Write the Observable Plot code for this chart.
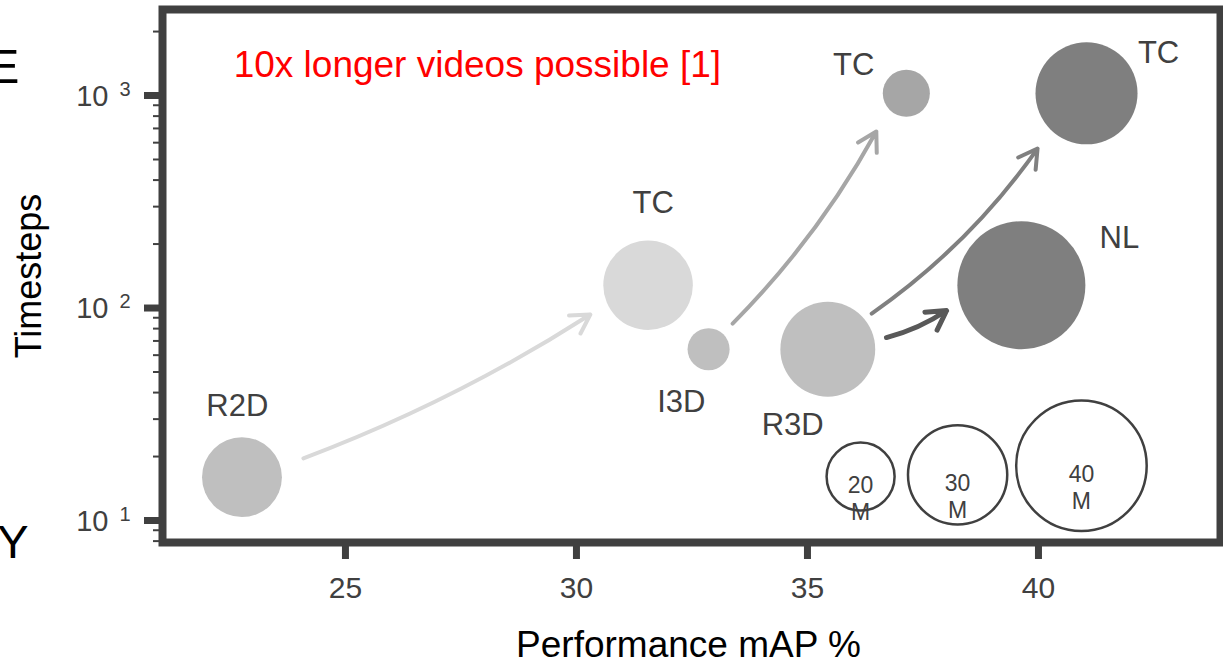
<!DOCTYPE html>
<html><head><meta charset="utf-8">
<script src="https://cdn.jsdelivr.net/npm/d3@7"></script>
<script src="https://cdn.jsdelivr.net/npm/@observablehq/plot@0.6"></script>
<style>
html,body{margin:0;padding:0;background:#fff;}
#chart svg{display:block;}
</style></head><body><div id="chart"></div>
<script>
// ---- data ----
const models = ["R2D", "TC", "I3D", "R3D", "TC", "TC", "NL"];
const mAP = [22.76, 31.55, 32.86, 35.44, 37.14, 41.04, 39.63];
const timesteps = [16, 128, 64, 64, 1024, 1024, 128];
const paramsM = [23.8, 26.9, 11.7, 28.6, 13.3, 30.9, 39.2];
const labelX = [22.66, 31.66, 32.27, 34.68, 36.00, 42.60, 41.75];
const labelY = [34.5, 312, 36.0, 28.0, 1384, 1580, 213];

const arrowFromX = [24.09, 33.38, 36.39, 36.71];
const arrowFromY = [19.6, 84.5, 94.2, 72.6];
const arrowToX = [30.30, 36.49, 39.98, 38.01];
const arrowToY = [93.2, 677, 563, 97.3];

const legendSizes = [20, 30, 40];
const legendLabels = ["20\nM", "30\nM", "40\nM"];
const legendX = [36.15, 38.25, 40.93];
const legendY = [16.1, 16.4, 18.1];

const note = "10x longer videos possible [1]";
const noteX = [22.58];
const noteY = [1384];

const xTicks = [25, 30, 35, 40];
const yTicks = [10, 100, 1000];
const yTickBase = "10";
const yTickExp = ["1", "2", "3"];
const yMinorTicks = [8, 9, 20, 30, 40, 50, 60, 70, 80, 90, 200, 300, 400, 500, 600, 700, 800, 900, 2000];
const xLabel = "Performance mAP %";
const yLabel = "Timesteps";
const sideLetters = ["E", "Y"];

// ---- styles (kept apart from the data) ----
const bubbleFills = ["#bfbfbf", "#d9d9d9", "#bfbfbf", "#bfbfbf", "#a6a6a6", "#7f7f7f", "#7f7f7f"];
const arrowColors = ["#d9d9d9", "#a6a6a6", "#808080", "#595959"];
const arrowWidths = [4, 4, 4, 5];
const arrowHeads = [8, 8, 8, 6.5];
const arrowBends = [-6, -8, -10, -10];
const dark = "#404040";

const bubbles = models.map((m, i) => ({model: m, x: mAP[i], y: timesteps[i], p: paramsM[i], fill: bubbleFills[i], lx: labelX[i], ly: labelY[i]}));
const arrows = arrowFromX.map((v, i) => ({x1: v, y1: arrowFromY[i], x2: arrowToX[i], y2: arrowToY[i]}));
const legend = legendSizes.map((s, i) => ({size: s, label: legendLabels[i], x: legendX[i], y: legendY[i]}));
const yTickRows = yTicks.map((v, i) => ({v, e: yTickExp[i]}));

const chart = Plot.plot({
  width: 1223,
  height: 664,
  marginLeft: 162,
  marginRight: 3,
  marginTop: 9,
  marginBottom: 122,
  style: {fontFamily: "'Liberation Sans', Arial, sans-serif", background: "#fff", overflow: "hidden"},
  x: {domain: [21.04, 43.94]},
  y: {type: "log", domain: [7.88, 2540]},
  r: {type: "linear", domain: [0, 40], range: [2.75, 65.25]},
  color: {type: "identity"},
  marks: [
    // minor y ticks
    Plot.axisY(yMinorTicks, {tickSize: 9, strokeWidth: 2, stroke: dark, tickFormat: () => "", label: null}),
    // major y ticks
    Plot.axisY(yTicks, {tickSize: 18, strokeWidth: 7, stroke: dark, tickFormat: () => "", label: null}),
    // y tick labels 10^n
    Plot.text(yTickRows, {y: "v", text: () => yTickBase, frameAnchor: "left", textAnchor: "end", lineAnchor: "middle", dx: -54, dy: 1, fontSize: 29, fill: dark}),
    Plot.text(yTickRows, {y: "v", text: "e", frameAnchor: "left", textAnchor: "start", lineAnchor: "middle", dx: -43, dy: -6, fontSize: 20, fill: dark}),
    // x axis
    Plot.axisX(xTicks, {tickSize: 17, tickPadding: 17, strokeWidth: 7, color: dark, fontSize: 30, label: null}),
    // axis labels
    Plot.text([yLabel], {text: d => d, frameAnchor: "left", textAnchor: "middle", lineAnchor: "middle", dx: -133, rotate: -90, fontSize: 36, fill: "#000"}),
    Plot.text([xLabel], {text: d => d, frameAnchor: "bottom", textAnchor: "middle", lineAnchor: "middle", dx: -3, dy: 103, fontSize: 37, fill: "#000"}),
    // slide letters at the left edge
    Plot.text([sideLetters[0]], {text: d => d, frameAnchor: "top-left", textAnchor: "end", lineAnchor: "middle", dx: -143, dy: 58, fontSize: 49, fill: "#000"}),
    Plot.text([sideLetters[1]], {text: d => d, frameAnchor: "bottom-left", textAnchor: "end", lineAnchor: "middle", dx: -134, dy: 0, fontSize: 47, fill: "#000"}),
    // bubbles
    Plot.dot(bubbles, {x: "x", y: "y", r: "p", fill: "fill", stroke: null}),
    Plot.text(bubbles, {x: "lx", y: "ly", text: "model", fontSize: 31, fill: dark}),
    // arrows
    ...arrows.map((a, i) => Plot.arrow([a], {x1: "x1", y1: "y1", x2: "x2", y2: "y2", stroke: arrowColors[i], strokeWidth: arrowWidths[i], headLength: arrowHeads[i], bend: arrowBends[i]})),
    // size legend
    Plot.dot(legend, {x: "x", y: "y", r: "size", fill: "none", stroke: dark, strokeWidth: 2.5}),
    Plot.text(legend, {x: "x", y: "y", text: "label", dy: 21, fontSize: 23, lineHeight: 1.2, fill: dark}),
    // note
    Plot.text(noteX.map((x, i) => ({x, y: noteY[i], t: note})), {x: "x", y: "y", text: "t", textAnchor: "start", fontSize: 37, fill: "#ff0000"}),
    // frame
    Plot.frame({stroke: dark, strokeWidth: 8})
  ]
});
document.getElementById("chart").appendChild(chart);
</script>
</body></html>
